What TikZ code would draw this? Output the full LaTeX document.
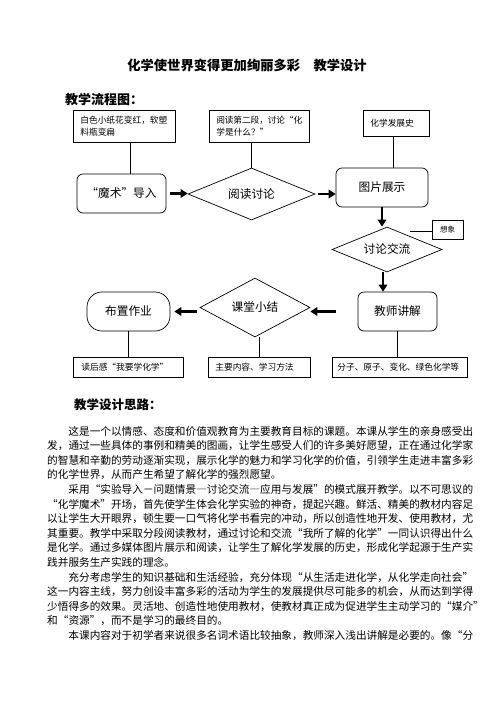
\documentclass[tikz,border=0pt]{standalone}
\usepackage{fontspec}
\setmainfont{Noto Sans CJK SC}[RawFeature=+fwid]
\usetikzlibrary{arrows.meta,shapes.geometric}
\XeTeXlinebreaklocale "zh"
\XeTeXlinebreakskip=0pt plus 1pt minus 0.4pt
\newcommand\jline[1]{\hbox to 426pt{#1}}
\newcommand\nline[1]{\hbox{#1}}
\newcommand\ind{\hspace*{21.3pt}}
\begin{document}
\begin{tikzpicture}[x=1pt,y=-1pt,
  tbox/.style={draw,line width=0.7pt,align=left,inner ysep=0pt,inner xsep=7pt,font=\fontsize{8.7pt}{12pt}\selectfont},
  mbox/.style={draw,line width=0.7pt,rounded corners=6pt,inner sep=0pt,font=\fontsize{11.7pt}{14pt}\selectfont},
  dia/.style={draw,line width=0.7pt,diamond,shape aspect=2.4,inner sep=0pt,font=\fontsize{11.7pt}{14pt}\selectfont},
  arr/.style={line width=2.5pt,-{Triangle[length=7pt,width=8.5pt]}},
  ln/.style={line width=0.7pt}]
\useasboundingbox (0,0) rectangle (496,702);
% headings
\node[font=\fontsize{13.3pt}{16pt}\selectfont\bfseries] (title) at (247,65) {化学使世界变得更加绚丽多彩　教学设计};
\node[font=\fontsize{13pt}{16pt}\selectfont\bfseries,anchor=west,inner sep=0pt] (h1) at (65,100) {教学流程图：};
\node[font=\fontsize{12.5pt}{16pt}\selectfont\bfseries,anchor=west,inner sep=0pt] (h2) at (74,405) {教学设计思路：};
% top boxes
\node[tbox,anchor=north west,minimum width=102pt,minimum height=32pt,text width=88pt] (b1) at (73,110) {白色小纸花变红，软塑\\料瓶变扁};
\node[tbox,anchor=north west,minimum width=100pt,minimum height=32pt,text width=86pt] (b2) at (209,110) {阅读第二段，讨论“化\\学是什么？”};
\node[tbox,anchor=north west,minimum width=66pt,minimum height=26pt,text width=52pt] (b3) at (363,110) {化学发展史\\[-3pt]};
% main flow
\node[mbox,minimum width=89pt,minimum height=39pt] (mo) at (121.5,193.5) {“魔术”导入};
\node[dia,minimum width=127pt,minimum height=52pt] (yd) at (251.5,194) {阅读讨论};
\node[mbox,minimum width=92pt,minimum height=39pt] (tp) at (382,187.5) {图片展示};
\node[dia,minimum width=110pt,minimum height=45pt] (tl) at (387,249.5) {讨论交流};
\node[mbox,minimum width=79pt,minimum height=39pt] (js) at (397.5,311.5) {教师讲解};
\node[dia,minimum width=110pt,minimum height=59pt] (kt) at (255,307.5) {课堂小结};
\node[mbox,rounded corners=15pt,minimum width=83pt,minimum height=39pt] (bz) at (128.5,311.5) {布置作业};
% side box
\node[draw,line width=0.7pt,inner sep=0pt,minimum width=31pt,minimum height=19pt,font=\fontsize{7.5pt}{9pt}\selectfont] (xx) at (447.5,229.5) {想象};
\coordinate (xxl) at (410,231);
% bottom boxes
\node[tbox,anchor=north west,minimum width=110pt,minimum height=20pt,text width=94pt,inner xsep=8pt] (dh) at (73,357) {读后感“我要学化学”};
\node[tbox,anchor=north west,minimum width=102pt,minimum height=20pt,text width=88pt] (zy) at (208,357) {主要内容、学习方法};
\node[tbox,anchor=north west,minimum width=135pt,minimum height=20pt,text width=125pt,inner xsep=5pt] (fz) at (332,357) {分子、原子、变化、绿色化学等};
% connectors
\draw[ln] ([xshift=6pt]b1.south) -- ([xshift=6pt]b1.south |- mo.north);
\draw[ln] (yd.north) -- (yd.north |- b2.south);
\draw[ln] ([xshift=-3pt]b3.south) -- ([xshift=-3pt]b3.south |- tp.north);
\draw[ln] (xxl) -- (xxl -| xx.west);
\draw[ln] (bz.south) -- (bz.south |- dh.north);
\draw[ln] (zy.north) -- (zy.north |- kt.south);
\draw[ln] (js.south) -- (js.south |- fz.north);
% arrows
\draw[arr,shorten <=4pt] (mo.east) -- (mo.east -| yd.west);
\draw[arr,shorten <=3pt] (yd.east) -- (yd.east -| tp.west);
\draw[arr] (tp.south) -- (tp.south |- tl.north);
\draw[arr] ([xshift=-4pt]tl.south) -- ([xshift=-4pt]tl.south |- js.north);
\draw[arr,shorten <=22pt] (js.west) -- (js.west -| kt.east);
\draw[arr,shorten <=3pt,shorten >=4pt] (kt.west |- bz.east) -- (bz.east);
% paragraph
\node[anchor=base west,inner sep=0pt,font=\fontsize{10.65pt}{14.6pt}\selectfont] (para) at (47,435) {\vtop{\baselineskip=14.6pt\lineskiplimit=-20pt
\jline{\ind 这是一个以情感、态度和价值观教育为主要教育目标的课题。本课从学生的亲身感受出}
\jline{发，通过一些具体的事例和精美的图画，让学生感受人们的许多美好愿望，正在通过化学家}
\jline{的智慧和辛勤的劳动逐渐实现，展示化学的魅力和学习化学的价值，引领学生走进丰富多彩}
\nline{的化学世界，从而产生希望了解化学的强烈愿望。}
\jline{\ind 采用“实验导入－问题情景—讨论交流—应用与发展”的模式展开教学。以不可思议的}
\jline{“化学魔术”开场，首先使学生体会化学实验的神奇，提起兴趣。鲜活、精美的教材内容足}
\jline{以让学生大开眼界，顿生要一口气将化学书看完的冲动，所以创造性地开发、使用教材，尤}
\jline{其重要。教学中采取分段阅读教材，通过讨论和交流“我所了解的化学”一同认识得出什么}
\jline{是化学。通过多媒体图片展示和阅读，让学生了解化学发展的历史，形成化学起源于生产实}
\nline{践并服务生产实践的理念。}
\nline{\ind 充分考虑学生的知识基础和生活经验，充分体现“从生活走进化学，从化学走向社会”}
\nline{这一内容主线，努力创设丰富多彩的活动为学生的发展提供尽可能多的机会，从而达到学得}
\jline{少悟得多的效果。灵活地、创造性地使用教材，使教材真正成为促进学生主动学习的“媒介”}
\nline{和“资源”，而不是学习的最终目的。}
\jline{\ind 本课内容对于初学者来说很多名词术语比较抽象，教师深入浅出讲解是必要的。像“分}
}};
\end{tikzpicture}
\end{document}
